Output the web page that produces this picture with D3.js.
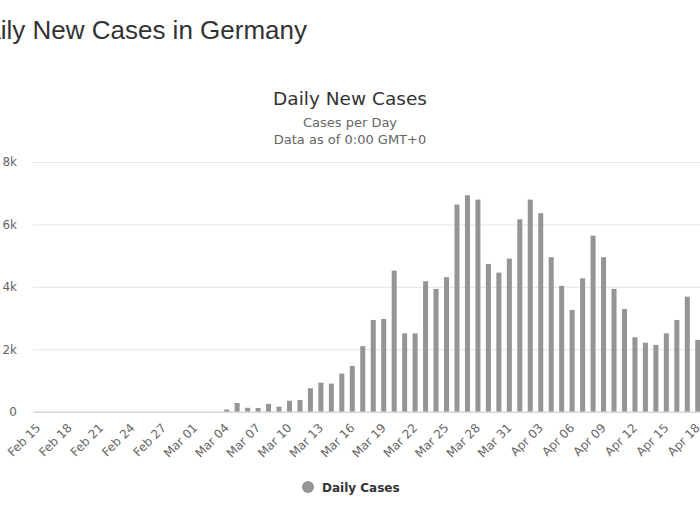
<!DOCTYPE html>
<html>
<head>
<meta charset="utf-8">
<script src="https://cdn.jsdelivr.net/npm/d3@7/dist/d3.min.js"></script>
<style>
  html, body { margin: 0; padding: 0; background: #fff; }
  svg { display: block; }
</style>
</head>
<body>
<svg id="chart" width="700" height="525"></svg>
<script>
// ---- data ----
const dates = [
  "Feb 15","Feb 16","Feb 17","Feb 18","Feb 19","Feb 20","Feb 21","Feb 22","Feb 23","Feb 24",
  "Feb 25","Feb 26","Feb 27","Feb 28","Feb 29","Mar 01","Mar 02","Mar 03","Mar 04","Mar 05",
  "Mar 06","Mar 07","Mar 08","Mar 09","Mar 10","Mar 11","Mar 12","Mar 13","Mar 14","Mar 15",
  "Mar 16","Mar 17","Mar 18","Mar 19","Mar 20","Mar 21","Mar 22","Mar 23","Mar 24","Mar 25",
  "Mar 26","Mar 27","Mar 28","Mar 29","Mar 30","Mar 31","Apr 01","Apr 02","Apr 03","Apr 04",
  "Apr 05","Apr 06","Apr 07","Apr 08","Apr 09","Apr 10","Apr 11","Apr 12","Apr 13","Apr 14",
  "Apr 15","Apr 16","Apr 17","Apr 18"
];
const dailyCases = [
  0,0,0,0,0,0,0,0,0,0,
  0,0,0,0,0,0,0,0,70,280,
  125,120,250,160,350,375,750,930,900,1220,
  1465,2100,2940,2970,4520,2510,2510,4180,3935,4310,
  6635,6935,6795,4735,4455,4905,6165,6795,6360,4950,
  4030,3260,4275,5640,4950,3935,3290,2385,2210,2140,
  2510,2940,3685,2300
];
const yTicks = [0, 2000, 4000, 6000, 8000];
const tickLabelDates = dates.filter((d, i) => i % 3 === 0);

// ---- layout ----
const svg = d3.select("#chart");
const plot = { left: 33, right: 703, top: 162, bottom: 411.7 };

const x = d3.scaleBand().domain(dates).range([plot.left, plot.right]).paddingInner(0.52).paddingOuter(0.26);
const y = d3.scaleLinear().domain([0, 8000]).range([plot.bottom, plot.top]);

// page title (cut off at left like the reference)
svg.append("text")
  .attr("x", 307).attr("y", 39)
  .attr("text-anchor", "end")
  .attr("font-family", "Liberation Sans, Arial, sans-serif")
  .attr("font-size", 26)
  .attr("fill", "#333")
  .text("Daily New Cases in Germany");

// chart title and subtitle
svg.append("text")
  .attr("x", 350).attr("y", 105)
  .attr("text-anchor", "middle")
  .attr("font-family", "DejaVu Sans, sans-serif")
  .attr("font-size", 18.5)
  .attr("fill", "#333")
  .text("Daily New Cases");
svg.append("text")
  .attr("x", 350).attr("y", 127)
  .attr("text-anchor", "middle")
  .attr("font-family", "DejaVu Sans, sans-serif")
  .attr("font-size", 13)
  .attr("fill", "#666")
  .text("Cases per Day");
svg.append("text")
  .attr("x", 350).attr("y", 143.5)
  .attr("text-anchor", "middle")
  .attr("font-family", "DejaVu Sans, sans-serif")
  .attr("font-size", 13)
  .attr("fill", "#666")
  .text("Data as of 0:00 GMT+0");

// gridlines + y axis labels
const yAxis = d3.axisLeft(y).tickValues(yTicks)
  .tickSize(-(plot.right - plot.left))
  .tickPadding(16)
  .tickFormat(d => d === 0 ? "0" : (d / 1000) + "k");
const gy = svg.append("g").attr("transform", `translate(${plot.left},0)`).call(yAxis);
gy.select(".domain").remove();
gy.selectAll(".tick line").attr("stroke", "#e6e6e6").attr("stroke-width", 1);
gy.selectAll(".tick text")
  .attr("font-family", "DejaVu Sans, sans-serif")
  .attr("font-size", 12)
  .attr("fill", "#666");

// bars
svg.append("g").selectAll("rect")
  .data(dates.map((d, i) => ({ date: d, value: dailyCases[i] })))
  .join("rect")
  .attr("x", d => x(d.date))
  .attr("y", d => y(d.value))
  .attr("width", x.bandwidth())
  .attr("height", d => y(0) - y(d.value))
  .attr("fill", "#959595");

// x axis baseline
const xAxis = d3.axisBottom(x).tickValues(tickLabelDates).tickSize(0).tickPadding(0);
const gx = svg.append("g").attr("transform", `translate(0,${plot.bottom})`).call(xAxis);
gx.select(".domain").attr("stroke", "#ccc").attr("stroke-width", 1);
gx.selectAll(".tick text")
  .attr("font-family", "DejaVu Sans, sans-serif")
  .attr("font-size", 12)
  .attr("fill", "#666")
  .attr("text-anchor", "end")
  .attr("dy", 0)
  .attr("transform", "translate(3,17) rotate(-45)");

// legend
svg.append("circle").attr("cx", 308).attr("cy", 487).attr("r", 6).attr("fill", "#959595");
svg.append("text")
  .attr("x", 322).attr("y", 491.5)
  .attr("font-family", "DejaVu Sans, sans-serif")
  .attr("font-size", 12)
  .attr("font-weight", "bold")
  .attr("fill", "#333")
  .text("Daily Cases");
</script>
</body>
</html>
